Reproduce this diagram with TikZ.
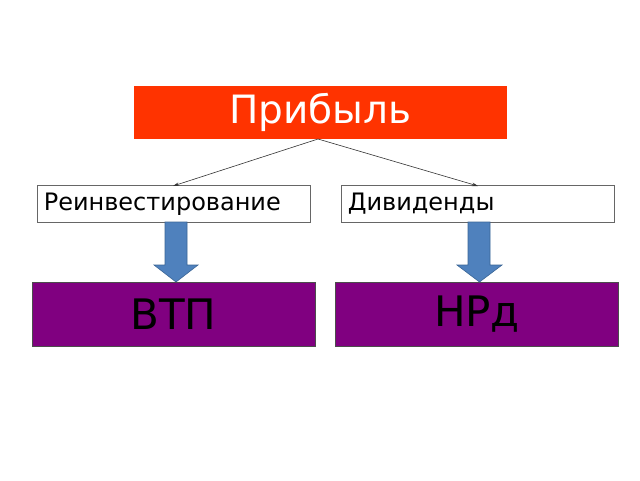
\documentclass[tikz,border=0pt]{standalone}
\usepackage{fontspec}
\setmainfont{DejaVu Sans}
\usetikzlibrary{arrows.meta,shapes.arrows}
\definecolor{pred}{HTML}{FF3300}
\definecolor{ppurple}{HTML}{800080}
\definecolor{pblue}{HTML}{4F81BD}
\definecolor{pblueb}{HTML}{3A6596}
\begin{document}
\begin{tikzpicture}[x=1pt,y=-1pt,
  topbox/.style={draw=none,fill=pred,minimum width=373pt,minimum height=53pt,inner sep=0pt,text=white,font=\fontsize{39}{44}\selectfont},
  midbox/.style={draw=black!60,fill=white,line width=0.6pt,minimum width=273pt,minimum height=37pt,inner sep=0pt,text height=14pt,text depth=0pt,font=\fontsize{24}{28}\selectfont},
  botbox/.style={draw=black!70,fill=ppurple,line width=0.6pt,minimum width=283pt,minimum height=64pt,inner sep=0pt,font=\fontsize{42}{48}\selectfont},
  thinarrow/.style={-{Stealth[length=6pt,width=3.5pt]},line width=0.6pt,draw=black!80},
  blockarrow/.style={fill=pblue,draw=pblueb,line width=0.6pt}]
\useasboundingbox (0,0) rectangle (640,480);
\fill[white] (0,0) rectangle (640,480);
\node[topbox] (prib) at (320.5,112.5) {Прибыль};
\node[midbox,anchor=west,text width=260pt,align=left] (reinv) at (37,203.5) {Реинвестирование};
\node[midbox,anchor=west,text width=260pt,align=left] (divid) at (341,203.5) {Дивиденды};
\node[botbox] (vtp) at (173.5,314) {ВТП};
\node[botbox] (nrd) at (477,314) {НРд};
\coordinate (ps) at (318,139);
\coordinate (rt) at (173,186);
\coordinate (dt) at (478,186);
\draw[thinarrow] (ps) -- (rt);
\draw[thinarrow] (ps) -- (dt);
% block arrows
\draw[blockarrow] (165,222) -- (187,222) -- (187,265) -- (198,265) -- (176,282) -- (154,265) -- (165,265) -- cycle;
\draw[blockarrow] (468,222) -- (490,222) -- (490,265) -- (502,265) -- (479.5,282) -- (457,265) -- (468,265) -- cycle;
\end{tikzpicture}
\end{document}
